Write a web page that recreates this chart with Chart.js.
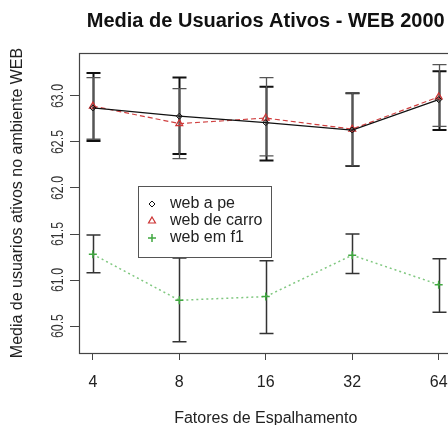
<!DOCTYPE html>
<html>
<head>
<meta charset="utf-8">
<script src="https://cdn.jsdelivr.net/npm/chart.js@4/dist/chart.umd.min.js"></script>
<style>
    html, body { margin: 0; padding: 0; overflow: hidden; background: #fff; }
    canvas { display: block; }
</style>
</head>
<body>
<canvas id="grafico" width="458" height="425"></canvas>
<script>
'use strict';

const fatores      = [4, 8, 16, 32, 64];
const nomes        = ['web a pe', 'web de carro', 'web em f1'];

const webAPe       = [62.87, 62.78, 62.71, 62.63, 62.96];
const webAPeLow    = [62.51, 62.37, 62.30, 62.24, 62.63];
const webAPeHigh   = [63.25, 63.20, 63.10, 63.03, 63.27];

const webCarro     = [62.89, 62.70, 62.76, 62.64, 62.99];
const webCarroLow  = [62.53, 62.32, 62.35, 62.24, 62.67];
const webCarroHigh = [63.20, 63.08, 63.20, 63.03, 63.34];

const webF1        = [61.28, 60.78, 60.82, 61.27, 60.95];
const webF1Low     = [61.08, 60.33, 60.42, 61.07, 60.65];
const webF1High    = [61.49, 61.24, 61.21, 61.50, 61.23];

const yTicks       = [60.5, 61.0, 61.5, 62.0, 62.5, 63.0];

const titulo  = 'Media de Usuarios Ativos - WEB 2000';
const tituloX = 'Fatores de Espalhamento';
const tituloY = 'Media de usuarios ativos no ambiente WEB';

const FONTE = '"Liberation Sans", Arial, sans-serif';

function pontos(vals) {
    return fatores.map((x, i) => ({x: x, y: vals[i]}));
}

const extras = {
    id: 'extras',
    beforeDatasetsDraw(chart) {
        const ctx = chart.ctx;
        const xs  = chart.scales.x;
        const ys  = chart.scales.y;
        chart.data.datasets.forEach(ds => {
            ctx.save();
            ctx.strokeStyle = ds.barColor;
            ctx.lineWidth   = ds.barWidth;
            for (let i = 0; i < fatores.length; i++) {
                let px = Math.round(xs.getPixelForValue(fatores[i])) + 0.5;
                let hi = ys.getPixelForValue(ds.high[i]);
                let lo = ys.getPixelForValue(ds.low[i]);
                ctx.beginPath();
                ctx.moveTo(px, hi);
                ctx.lineTo(px, lo);
                ctx.moveTo(px - 7, hi);
                ctx.lineTo(px + 7, hi);
                ctx.moveTo(px - 7, lo);
                ctx.lineTo(px + 7, lo);
                ctx.stroke();
            }
            ctx.restore();
        });
    },
    afterDraw(chart) {
        const ctx  = chart.ctx;
        const area = chart.chartArea;
        const xs   = chart.scales.x;
        const ys   = chart.scales.y;

        ctx.save();
        // caixa do grafico
        ctx.strokeStyle = '#444';
        ctx.lineWidth   = 1.2;
        ctx.strokeRect(area.left + 0.5, area.top + 0.5, area.right - area.left, area.bottom - area.top);

        // titulo
        ctx.fillStyle    = '#111';
        ctx.font         = 'bold 20px ' + FONTE;
        ctx.textAlign    = 'center';
        ctx.textBaseline = 'middle';
        ctx.fillText(titulo, (area.left + area.right) / 2, 21);

        // rotulos do eixo x
        ctx.fillStyle = '#222';
        ctx.font      = '16px ' + FONTE;
        fatores.forEach(v => {
            ctx.fillText(String(v), xs.getPixelForValue(v), 383);
        });

        // rotulos do eixo y, na vertical como no R
        ctx.fillStyle = '#333';
        ctx.font      = '13px ' + FONTE;
        yTicks.forEach(v => {
            ctx.save();
            ctx.translate(58, ys.getPixelForValue(v));
            ctx.rotate(-Math.PI / 2);
            ctx.scale(0.95, 1.3);
            ctx.fillText(v.toFixed(1), 0, 0);
            ctx.restore();
        });

        // legenda
        ctx.fillStyle   = '#fff';
        ctx.fillRect(138, 186, 133, 71);
        ctx.strokeStyle = '#555';
        ctx.lineWidth   = 1;
        ctx.strokeRect(138.5, 186.5, 133, 71);
        ctx.textAlign   = 'left';
        ctx.font        = '16px ' + FONTE;
        chart.data.datasets.forEach((ds, i) => {
            let ly = 204 + i * 17;
            ctx.strokeStyle = ds.pointBorderColor;
            ctx.lineWidth   = ds.pointBorderWidth;
            ctx.fillStyle   = 'rgba(255,255,255,0)';
            Chart.helpers.drawPoint(ctx, {
                pointStyle:  ds.pointStyle,
                radius:      ds.pointRadius,
                borderWidth: ds.pointBorderWidth,
                rotation:    0
            }, 152, ly);
            ctx.fillStyle = '#222';
            ctx.fillText(ds.label, 170, ly);
        });
        ctx.restore();
    }
};

new Chart(document.getElementById('grafico'), {
    type: 'line',
    data: {
        datasets: [{
                label:                nomes[0],
                data:                 pontos(webAPe),
                borderColor:          '#111',
                borderWidth:          1.2,
                pointStyle:           'rectRot',
                pointRadius:          3,
                pointBorderWidth:     1,
                pointBorderColor:     '#111',
                pointBackgroundColor: 'rgba(255,255,255,0)',
                low:  webAPeLow,
                high: webAPeHigh,
                barColor: '#111',
                barWidth: 2
            }, {
                label:                nomes[1],
                data:                 pontos(webCarro),
                borderColor:          '#d04040',
                borderWidth:          1.2,
                borderDash:           [5, 3],
                pointStyle:           'triangle',
                pointRadius:          4,
                pointBorderWidth:     1.2,
                pointBorderColor:     '#cc3333',
                pointBackgroundColor: 'rgba(255,255,255,0)',
                low:  webCarroLow,
                high: webCarroHigh,
                barColor: '#555',
                barWidth: 1.3
            }, {
                label:                nomes[2],
                data:                 pontos(webF1),
                borderColor:          '#80c880',
                borderWidth:          1.5,
                borderDash:           [2, 3],
                pointStyle:           'cross',
                pointRadius:          4,
                pointBorderWidth:     1.5,
                pointBorderColor:     '#40a840',
                pointBackgroundColor: 'rgba(255,255,255,0)',
                low:  webF1Low,
                high: webF1High,
                barColor: '#333',
                barWidth: 1.5
            }]
    },
    options: {
        responsive:       false,
        animation:        false,
        devicePixelRatio: 1,
        layout: {padding: {top: 53, right: 1, left: 0, bottom: 0}},
        plugins: {
            legend:  {display: false},
            tooltip: {enabled: false}
        },
        scales: {
            x: {
                type: 'logarithmic',
                min:  3.58,
                max:  71.5,
                afterBuildTicks: s => { s.ticks = fatores.map(v => ({value: v})); },
                afterFit:        s => { s.height = 72; },
                ticks:  {display: false},
                grid:   {drawOnChartArea: false, tickLength: 7, color: '#444'},
                border: {display: false},
                title: {
                    display: true,
                    text:    tituloX,
                    color:   '#222',
                    font:    {family: FONTE, size: 16, lineHeight: 0.75},
                    padding: 0
                }
            },
            y: {
                min: 60.207,
                max: 63.467,
                afterBuildTicks: s => { s.ticks = yTicks.map(v => ({value: v})); },
                afterFit:        s => { s.width = 79; },
                ticks:  {display: false},
                grid:   {drawOnChartArea: false, tickLength: 9, color: '#444'},
                border: {display: false},
                title: {
                    display: true,
                    text:    tituloY,
                    color:   '#222',
                    font:    {family: FONTE, size: 16, lineHeight: 1},
                    padding: {top: 10, bottom: 0}
                }
            }
        }
    },
    plugins: [extras]
});
</script>
</body>
</html>
